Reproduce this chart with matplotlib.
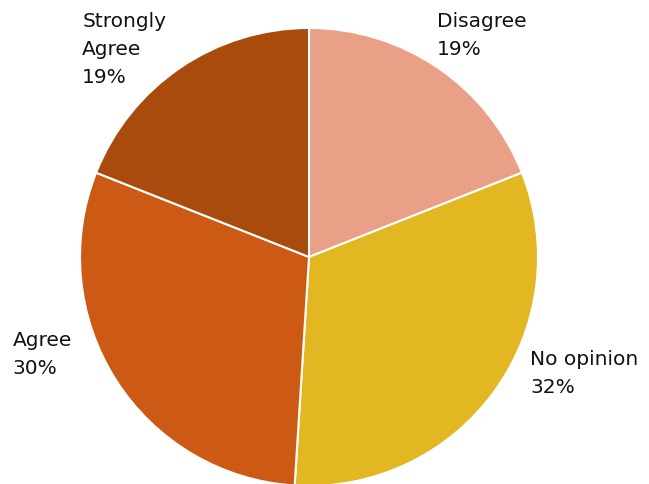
import matplotlib
matplotlib.use("Agg")
import matplotlib.pyplot as plt

# survey answers, clockwise from 12 o'clock
labels = ["Disagree", "No opinion", "Agree", "Strongly\nAgree"]
shares = [19, 32, 30, 19]
colors = ["#EA9F87", "#E2B721", "#CC5914", "#A84B0D"]

# label anchors (top-left corner, in pie radius units)
label_pos = [(0.56, 1.07), (0.965, -0.405), (-1.295, -0.325), (-0.99, 1.07)]

fig = plt.figure(figsize=(6.49, 4.84), dpi=100)
ax = fig.add_axes([0.1233, -0.0041, 0.7057, 0.9463])

wedges, _ = ax.pie(shares, colors=colors, startangle=90, counterclock=False,
                   radius=1, wedgeprops=dict(edgecolor="white", linewidth=1.5))

for lab, val, (x, y) in zip(labels, shares, label_pos):
    ax.text(x, y, f"{lab}\n{val}%", ha="left", va="top", fontsize=14.5,
            color="#111111", linespacing=1.6, clip_on=False)

ax.set_xlim(-1, 1)
ax.set_ylim(-1, 1)
ax.set_aspect("equal")
ax.axis("off")

fig.savefig("out.png", dpi=100)
